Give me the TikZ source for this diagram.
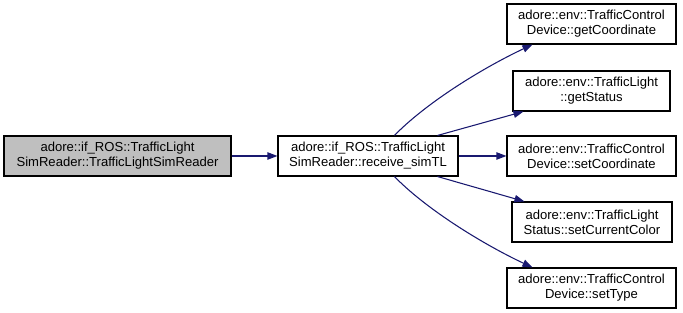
\documentclass[tikz,border=0pt]{standalone}
\usepackage{fontspec}
\setmainfont{Liberation Sans}
\usetikzlibrary{arrows.meta,calc}
\definecolor{edgeblue}{HTML}{191970}
\definecolor{callerfill}{HTML}{BFBFBF}
\begin{document}
\begin{tikzpicture}[x=0.75pt,y=-0.75pt,
  fn/.style={draw=black,line width=0.8pt,fill=white,rectangle,inner sep=0pt,
    minimum height=30pt,align=center,font=\fontsize{9.8}{11.3}\selectfont},
  caller/.style={fn,fill=callerfill},
  call/.style={draw=edgeblue,line width=0.8pt,
    -{Triangle[length=7.5pt,width=5.5pt]}}]
\useasboundingbox (0,0) rectangle (683,313);

% caller and the function it invokes
\node[caller,minimum width=170.25pt] (ctor) at (117.5,156)
  {adore::if\_ROS::TrafficLight\\SimReader::TrafficLightSimReader};
\node[fn,minimum width=135pt] (recv) at (368,156)
  {adore::if\_ROS::TrafficLight\\SimReader::receive\_simTL};

% callees
\node[fn,minimum width=126.75pt] (getc) at (591.5,24)
  {adore::env::TrafficControl\\Device::getCoordinate};
\node[fn,minimum width=117.75pt] (gets) at (591.5,91)
  {adore::env::TrafficLight\\::getStatus};
\node[fn,minimum width=126.75pt] (setc) at (591.5,156)
  {adore::env::TrafficControl\\Device::setCoordinate};
\node[fn,minimum width=120pt] (setcol) at (592,222)
  {adore::env::TrafficLight\\Status::setCurrentColor};
\node[fn,minimum width=126.75pt] (sett) at (591.5,288)
  {adore::env::TrafficControl\\Device::setType};

% call edges
\draw[call] (ctor.east) -- (recv.west);
\draw[call] ($(recv.north west)+(117,0)$) .. controls +(30,-31) and +(-53,25) ..
  ($(getc.south west)+(26,0)$);
\draw[call] ($(recv.north west)+(160,0)$) -- ($(gets.south west)+(11,0)$);
\draw[call] (recv.east) -- (setc.west);
\draw[call] ($(recv.south west)+(160,0)$) -- ($(setcol.north west)+(13,0)$);
\draw[call] ($(recv.south west)+(117,0)$) .. controls +(30,31) and +(-53,-25) ..
  ($(sett.north west)+(26,0)$);
\end{tikzpicture}
\end{document}
